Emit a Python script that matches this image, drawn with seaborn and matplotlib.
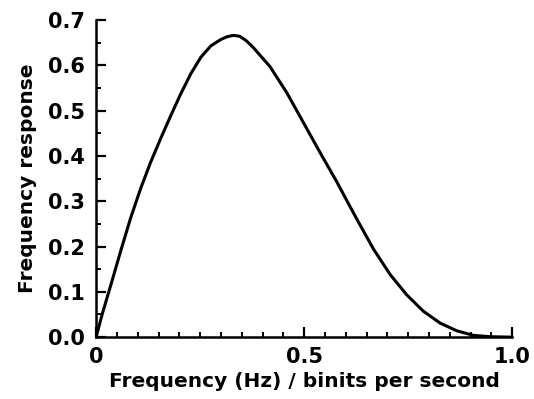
import matplotlib
matplotlib.use("Agg")
import matplotlib.pyplot as plt
import seaborn as sns
import pandas as pd
from matplotlib.ticker import MultipleLocator, FixedLocator

freq = [0.0, 0.015, 0.035, 0.059, 0.083, 0.107, 0.131, 0.155, 0.180,
        0.204, 0.228, 0.252, 0.276, 0.300, 0.315, 0.330, 0.345, 0.360, 0.378,
        0.418, 0.458, 0.498, 0.538, 0.579, 0.607, 0.627, 0.667, 0.707, 0.747,
        0.787, 0.827, 0.867, 0.907, 0.947, 1.0]
response = [0.0, 0.052, 0.114, 0.190, 0.263, 0.328, 0.386, 0.438, 0.490,
            0.538, 0.582, 0.618, 0.643, 0.657, 0.663, 0.666, 0.664, 0.655, 0.639,
            0.597, 0.540, 0.474, 0.408, 0.342, 0.294, 0.260, 0.194, 0.138, 0.093,
            0.057, 0.031, 0.014, 0.004, 0.001, 0.0]
xticks = [0.0, 0.5, 1.0]
xticklabels = ["0", "0.5", "1.0"]
yticks = [0.0, 0.1, 0.2, 0.3, 0.4, 0.5, 0.6, 0.7]

df = pd.DataFrame({"freq": freq, "response": response})

sns.set_theme(style="ticks")
plt.rcParams["font.family"] = ["DejaVu Sans"]

fig = plt.figure(figsize=(5.34, 3.99), dpi=100)
ax = fig.add_axes([0.18, 0.155, 0.779, 0.795])
sns.lineplot(data=df, x="freq", y="response", color="black", linewidth=2.2, ax=ax,
             solid_joinstyle="round", solid_capstyle="round")

ax.set_xlim(0, 1.0)
ax.set_ylim(0, 0.7)
ax.xaxis.set_major_locator(FixedLocator(xticks))
ax.set_xticklabels(xticklabels)
ax.xaxis.set_minor_locator(MultipleLocator(0.05))
ax.yaxis.set_major_locator(FixedLocator(yticks))
ax.set_yticklabels([f"{v:.1f}" for v in yticks])
ax.yaxis.set_minor_locator(MultipleLocator(0.05))

sns.despine(ax=ax)
for s in ["left", "bottom"]:
    ax.spines[s].set_linewidth(1.8)
    ax.spines[s].set_color("black")
ax.tick_params(which="major", direction="in", length=7, width=1.6, colors="black",
               labelsize=15)
ax.tick_params(which="minor", direction="in", length=3.5, width=1.4, colors="black")
ax.tick_params(axis="y", which="major", pad=8)
ax.tick_params(axis="x", which="major", pad=7)
for lab in ax.get_xticklabels() + ax.get_yticklabels():
    lab.set_fontweight("bold")

ax.set_xlabel("Frequency (Hz) / binits per second", fontsize=14.5, fontweight="bold",
              color="black", labelpad=4)
ax.set_ylabel("Frequency response", fontsize=14.5, fontweight="bold", color="black",
              labelpad=8)

fig.savefig("out.png", dpi=100)
